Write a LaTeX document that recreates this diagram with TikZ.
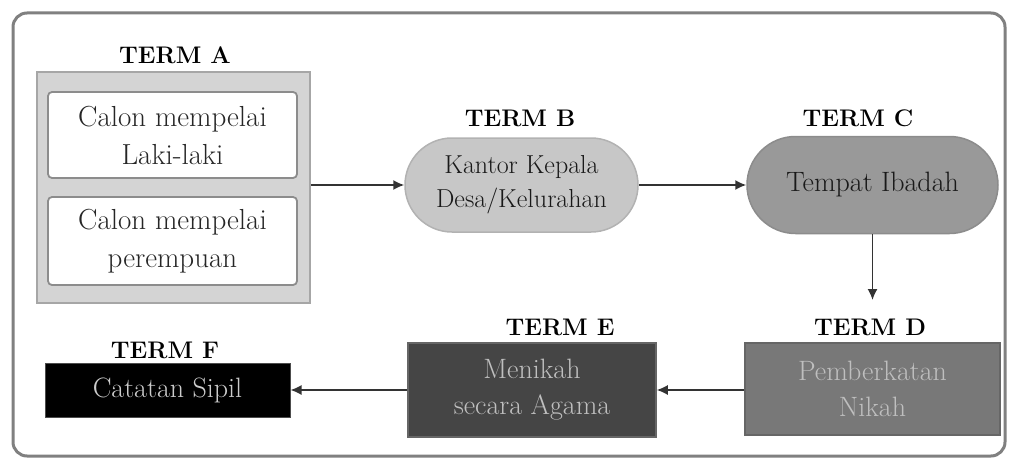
\documentclass[tikz,border=0pt]{standalone}
\usetikzlibrary{arrows.meta,shapes.misc}
\begin{document}
\begin{tikzpicture}[x=1pt,y=-1pt,
  termlab/.style={font=\fontsize{24}{28}\selectfont\bfseries, text=black, inner sep=0pt},
  boxtext/.style={font=\fontsize{28}{36}\selectfont, align=center, inner sep=2pt},
  flow/.style={draw=black!80, line width=1.6pt, -{Latex[length=11pt,width=10pt]}}
]
\useasboundingbox (0,0) rectangle (1010,460);
% outer frame
\draw[black!50, line width=3pt, rounded corners=14pt] (13,13) rectangle (1005,456);

% TERM A group
\node[draw=black!35, fill=black!17, line width=2pt, minimum width=273pt, minimum height=231pt, inner sep=0pt] (Agrp) at (173.5,187.5) {};
\node[boxtext, draw=black!45, fill=white, line width=1.8pt, rounded corners=4pt, minimum width=249pt, minimum height=86pt, text=black!85, font=\fontsize{29}{38}\selectfont] (A1) at (172.5,135) {Calon mempelai\\Laki-laki};
\node[boxtext, draw=black!45, fill=white, line width=1.8pt, rounded corners=4pt, minimum width=249pt, minimum height=88pt, text=black!85, font=\fontsize{29}{38}\selectfont] (A2) at (172.5,241) {Calon mempelai\\perempuan};
\node[termlab] (labA) at (175,55) {TERM A};

% TERM B
\node[boxtext, rounded rectangle, draw=black!30, fill=black!22, line width=1.5pt, minimum width=237pt, minimum height=94pt, text=black!90, font=\fontsize{26}{34}\selectfont] (B) at (521.5,185) {Kantor Kepala\\Desa/Kelurahan};
\node[termlab] (labB) at (520,118) {TERM B};

% TERM C
\node[boxtext, rounded rectangle, draw=black!45, fill=black!40, line width=1.5pt, minimum width=255pt, minimum height=97pt, text=black!90, font=\fontsize{28}{36}\selectfont] (C) at (872.5,185) {Tempat Ibadah};
\node[termlab] (labC) at (858,118) {TERM C};

% TERM D
\node[boxtext, draw=black!60, fill=black!53, line width=1.5pt, minimum width=255pt, minimum height=92pt, text=black!25, font=\fontsize{28}{36}\selectfont] (D) at (872.5,389) {Pemberkatan\\Nikah};
\node[termlab] (labD) at (870,327) {TERM D};
\coordinate (Dtop) at (872.5,300);

% TERM E
\node[boxtext, draw=black!60, fill=black!73, line width=1.5pt, minimum width=248pt, minimum height=94pt, text=black!25, font=\fontsize{28}{36}\selectfont] (E) at (532,390) {Menikah\\secara Agama};
\node[termlab] (labE) at (560,327) {TERM E};

% TERM F
\node[boxtext, draw=black!70, fill=black, line width=1pt, minimum width=245pt, minimum height=54pt, text=black!20, font=\fontsize{28}{36}\selectfont] (F) at (167.5,390) {Catatan Sipil};
\node[termlab] (labF) at (165,350) {TERM F};

% connectors
\draw[flow] (Agrp.east |- B.west) -- (B.west);
\draw[flow] (B.east) -- (C.west);
\draw[flow] (C.south) -- (Dtop);
\draw[flow] (D.west |- E.east) -- (E.east);
\draw[flow] (E.west |- F.east) -- (F.east);
\end{tikzpicture}
\end{document}
